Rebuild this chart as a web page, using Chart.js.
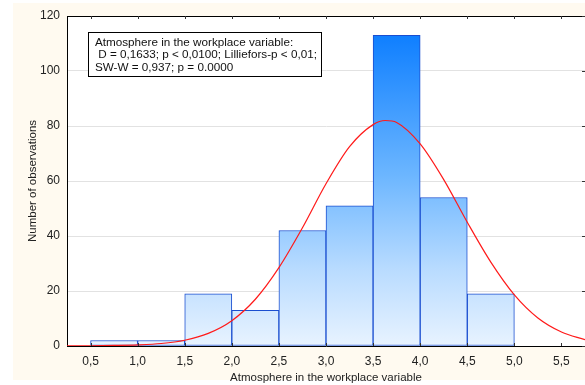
<!DOCTYPE html>
<html><head><meta charset="utf-8">
<script src="https://cdn.jsdelivr.net/npm/chart.js@4"></script>
<style>html,body{margin:0;padding:0;background:#fff}canvas{display:block}</style>
</head><body>
<canvas id="c" width="585" height="385"></canvas>
<script>
// ---- data ----
const binCenters = [0.75, 1.25, 1.75, 2.25, 2.75, 3.25, 3.75, 4.25, 4.75];
const binCounts  = [2, 2, 19, 13, 42, 51, 113, 54, 19];
const curveX = [0.25, 0.5, 0.75, 1.0, 1.25, 1.5, 1.75, 2.0, 2.25, 2.5, 2.75, 3.0, 3.25, 3.5, 3.63, 3.75, 4.0, 4.25, 4.5, 4.75, 5.0, 5.25, 5.5, 5.75];
const curveY = [0.05, 0.1, 0.2, 0.4, 0.9, 2.1, 4.6, 9.2, 17, 28.5, 43, 59, 72.5, 80.5, 82, 81.3, 73.5, 60.5, 45, 30.5, 18.6, 10.2, 5.1, 2.3];
const xTickValues = [0.5, 1.0, 1.5, 2.0, 2.5, 3.0, 3.5, 4.0, 4.5, 5.0, 5.5];
const xTickLabels = ['0,5', '1,0', '1,5', '2,0', '2,5', '3,0', '3,5', '4,0', '4,5', '5,0', '5,5'];
const yTickValues = [0, 20, 40, 60, 80, 100, 120];
const xTitle = 'Atmosphere in the workplace variable';
const yTitle = 'Number of observations';
const noteLines = ['Atmosphere in the workplace variable:', ' D = 0,1633; p < 0,0100; Lilliefors-p < 0,01;', 'SW-W = 0,937; p = 0.0000'];

const FONT = '"Liberation Sans", Arial, sans-serif';

const bgPlugin = {
  id: 'bg',
  beforeDraw(chart) {
    const {ctx, chartArea: a} = chart;
    ctx.save();
    ctx.fillStyle = '#ffffff';
    ctx.fillRect(0, 0, chart.width, chart.height);
    ctx.fillStyle = '#FFFAF0';
    ctx.fillRect(13, 3, chart.width - 13, 377);
    ctx.fillStyle = '#ffffff';
    ctx.fillRect(a.left, a.top, a.right - a.left, a.bottom - a.top);
    ctx.restore();
  }
};

const notePlugin = {
  id: 'note',
  afterDatasetsDraw(chart) {
    const {ctx, chartArea: a} = chart;
    const x = a.left + 21.5, y = a.top + 16.5, w = 233, h = 44;
    ctx.save();
    ctx.fillStyle = '#fff';
    ctx.fillRect(x, y, w, h);
    ctx.strokeStyle = '#000';
    ctx.lineWidth = 1;
    ctx.strokeRect(x, y, w, h);
    ctx.fillStyle = '#111';
    ctx.font = '11.7px ' + FONT;
    ctx.textBaseline = 'middle';
    noteLines.forEach((t, i) => ctx.fillText(t, x + 6.5, y + 10 + i * 12.5));
    ctx.restore();
  }
};

const framePlugin = {
  id: 'frame',
  afterDraw(chart) {
    const {ctx, chartArea: a, scales} = chart;
    ctx.save();
    ctx.strokeStyle = '#000';
    ctx.lineWidth = 1;
    ctx.beginPath();
    ctx.moveTo(a.left, a.top + 0.5); ctx.lineTo(a.right, a.top + 0.5);
    ctx.stroke();
    ctx.strokeStyle = '#333';
    ctx.beginPath();
    xTickValues.forEach(v => {
      const px = Math.round(scales.x.getPixelForValue(v)) + 0.5;
      ctx.moveTo(px, a.bottom); ctx.lineTo(px, a.bottom - 3);
      ctx.moveTo(px, a.top); ctx.lineTo(px, a.top + 3);
    });
    yTickValues.forEach(v => {
      const py = Math.round(scales.y.getPixelForValue(v)) + 0.5;
      ctx.moveTo(a.right, py); ctx.lineTo(a.right - 3, py);
    });
    ctx.stroke();
    ctx.restore();
  }
};

const barFill = (context) => {
  const chart = context.chart;
  const {ctx, chartArea, scales} = chart;
  if (!chartArea) return '#80c0ff';
  const top = scales.y.getPixelForValue(Math.max(...binCounts));
  const bot = scales.y.getPixelForValue(0);
  const g = ctx.createLinearGradient(0, top, 0, bot);
  g.addColorStop(0, '#0f7fff');
  g.addColorStop(0.45, '#6cb6ff');
  g.addColorStop(0.75, '#b8dbff');
  g.addColorStop(1, '#e8f3ff');
  return g;
};

new Chart(document.getElementById('c'), {
  type: 'bar',
  data: {
    datasets: [
      {
        type: 'line',
        data: curveX.map((x, i) => ({x, y: curveY[i]})),
        borderColor: '#ff1a1a',
        borderWidth: 1.2,
        pointRadius: 0,
        fill: false,
        cubicInterpolationMode: 'monotone',
        order: 0
      },
      {
        type: 'bar',
        data: binCenters.map((x, i) => ({x, y: binCounts[i]})),
        backgroundColor: barFill,
        borderColor: '#1a4ed0',
        borderWidth: 1,
        borderSkipped: false,
        barPercentage: 1,
        categoryPercentage: 1,
        order: 1
      }
    ]
  },
  options: {
    responsive: false,
    devicePixelRatio: 1,
    animation: false,
    layout: {padding: {top: 16, left: 26, right: 0, bottom: 0}},
    plugins: {legend: {display: false}, tooltip: {enabled: false}},
    scales: {
      x: {
        type: 'linear', min: 0.25, max: 5.75, offset: false,
        afterBuildTicks: s => { s.ticks = xTickValues.map(v => ({value: v})); },
        afterFit: s => { s.height = 39; },
        grid: {color: 'rgba(0,0,0,0)', drawTicks: false},
        border: {display: true, color: '#000', width: 1},
        ticks: {padding: 8, color: '#222', font: {family: FONT, size: 12}, maxRotation: 0, autoSkip: false,
                callback: (v, i) => xTickLabels[i]},
        title: {display: true, text: xTitle, color: '#222', font: {family: FONT, size: 11.5}, padding: 0}
      },
      y: {
        type: 'linear', min: 0, max: 120,
        afterBuildTicks: s => { s.ticks = yTickValues.map(v => ({value: v})); },
        afterFit: s => { s.width = 41; },
        grid: {color: '#e2e2e2', drawTicks: false},
        border: {display: true, color: '#000', width: 1},
        ticks: {padding: 7, color: '#222', font: {family: FONT, size: 12},
                callback: (v, i) => String(yTickValues[i])},
        title: {display: true, text: yTitle, color: '#222', font: {family: FONT, size: 11.5}, padding: 0}
      }
    }
  },
  plugins: [bgPlugin, notePlugin, framePlugin]
});
</script>
</body></html>
